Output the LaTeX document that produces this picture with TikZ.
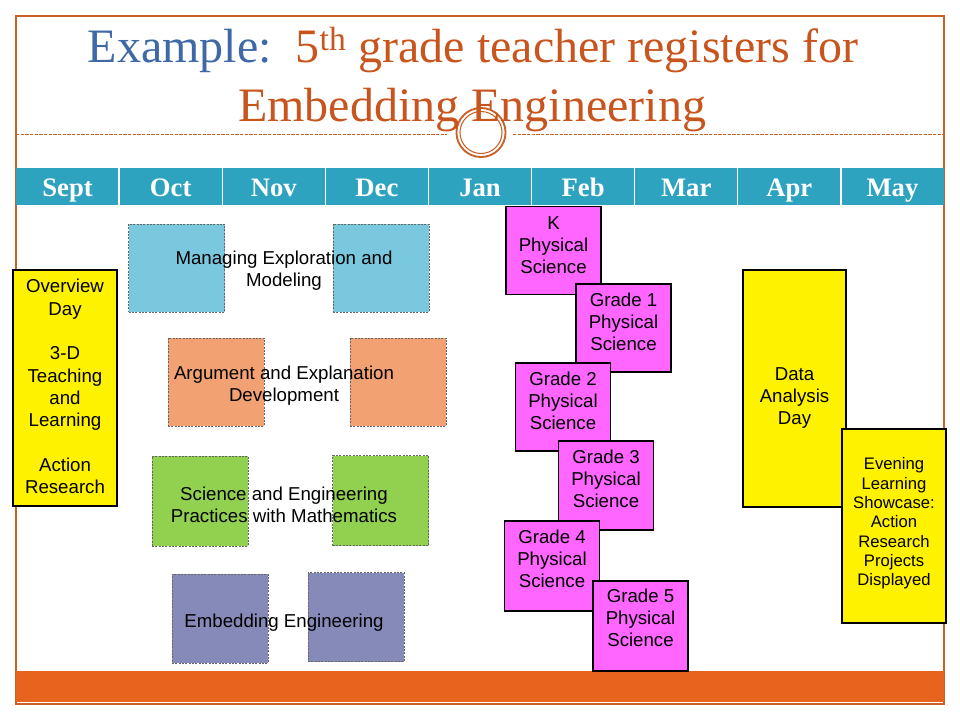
\documentclass[tikz,border=0pt]{standalone}
\usepackage{fontspec}
\setmainfont{Liberation Sans}
\newfontfamily\titlefont{Liberation Serif}
\usepackage{tikz}
\usetikzlibrary{calc}

\definecolor{frameorange}{RGB}{200,98,40}
\definecolor{titleblue}{RGB}{62,104,166}
\definecolor{titleorange}{RGB}{200,85,30}
\definecolor{barteal}{RGB}{46,163,192}
\definecolor{barorange}{RGB}{232,100,30}
\definecolor{mgblue}{RGB}{122,200,222}
\definecolor{argorange}{RGB}{242,162,114}
\definecolor{scigreen}{RGB}{146,208,80}
\definecolor{embpurple}{RGB}{134,138,184}
\definecolor{grademagenta}{RGB}{255,102,255}

\begin{document}
\begin{tikzpicture}[x=0.75pt,y=-0.75pt,
  month/.style={anchor=base,text=white,font=\titlefont\bfseries\fontsize{20}{24}\selectfont},
  topic/.style={draw=black!60,line width=0.5pt,dash pattern=on 1.5pt off 1pt,minimum width=72pt,minimum height=66pt,inner sep=0pt},
  grade/.style={draw=black,line width=0.8pt,fill=grademagenta,minimum width=71.25pt,minimum height=66pt,inner sep=0pt},
  daybox/.style={draw=black,line width=0.8pt,fill=yellow,minimum width=78pt,inner sep=0pt},
  lbl/.style={align=center,inner sep=0pt,font=\fontsize{14}{16.7}\selectfont}]
\useasboundingbox (0,0) rectangle (960,720);
% the slide frame
\draw[frameorange,line width=0.8pt] (16,16) rectangle (944,704);
\fill[barorange] (16,671) rectangle (944,702);
% the title
\draw[frameorange,line width=0.6pt,dash pattern=on 2.5pt off 1pt] (16,134) -- (447,134) (513,134) -- (944,134);
\node[circle,draw=frameorange,fill=white,line width=1.4pt,minimum size=36.8pt,inner sep=0pt] (ring) at (481,132.5) {};
\node[circle,draw=frameorange,line width=0.8pt,minimum size=31.5pt,inner sep=0pt] (ringin) at (481,132.5) {};
\node[anchor=base,font=\titlefont\fontsize{36}{44}\selectfont] (title1) at (473,63)
  {\textcolor{titleblue}{Example:}\ \ \textcolor{titleorange}{5\textsuperscript{th} grade teacher registers for}};
\node[anchor=base,text=titleorange,font=\titlefont\fontsize{36}{44}\selectfont] (title2) at (472,122) {Embedding Engineering};
% the months
\fill[barteal] (16,168) rectangle (944,205);
\foreach \i in {1,...,8}
  \draw[white,line width=1pt] ({16+103.11*\i},168) -- ++(0,37);
\foreach \m [count=\i] in {Sept,Oct,Nov,Dec,Jan,Feb,Mar,Apr,May}
  \node[month] (m\i) at ({16+103.11*(\i-0.5)},197) {\m};
% overview day
\node[daybox,minimum height=177pt] (ov) at (65,388) {};
\node[lbl] (ovt) at (65,386.5) {Overview\\Day\\[16.7pt]3-D\\Teaching\\and\\Learning\\[16.7pt]Action\\Research};
% the four strands
\node[topic,fill=mgblue] (mg1) at (176.5,268) {};
\node[topic,fill=mgblue] (mg2) at (381,268) {};
\node[lbl] (mgt) at (284,270.5) {Managing Exploration and\\Modeling};
\node[topic,fill=argorange] (ar1) at (216,382) {};
\node[topic,fill=argorange] (ar2) at (398,382) {};
\node[lbl] (art) at (284,385.5) {Argument and Explanation\\Development};
\node[topic,fill=scigreen,minimum height=67.5pt] (sc1) at (200,501) {};
\node[topic,fill=scigreen,minimum height=67.5pt] (sc2) at (380.5,500.5) {};
\node[lbl] (sct) at (284,505) {Science and Engineering\\Practices with Mathematics};
\node[topic,fill=embpurple,minimum height=66.75pt] (em1) at (220,618.5) {};
\node[topic,fill=embpurple,minimum height=66.75pt] (em2) at (356,617) {};
\node[lbl] (emt) at (284,623) {Embedding Engineering};
% the grade sessions
\node[grade] (gk) at (553.5,250.5) {};
\node[lbl] (gkt) at (553.5,245) {K\\Physical\\Science};
\node[grade] (g1) at (623.5,328) {};
\node[lbl] (g1t) at (623.5,322) {Grade 1\\Physical\\Science};
\node[grade] (g2) at (563,407) {};
\node[lbl] (g2t) at (563,401) {Grade 2\\Physical\\Science};
\node[grade,minimum height=66.75pt] (g3) at (606,485.5) {};
\node[lbl] (g3t) at (606,479) {Grade 3\\Physical\\Science};
\node[grade,minimum height=67.5pt] (g4) at (552,566) {};
\node[lbl] (g4t) at (552,559) {Grade 4\\Physical\\Science};
\node[grade,minimum height=67.5pt] (g5) at (640.5,626) {};
\node[lbl] (g5t) at (640.5,618) {Grade 5\\Physical\\Science};
% data analysis and showcase
\node[daybox,minimum width=77.25pt,minimum height=177.75pt] (da) at (794.5,388.5) {};
\node[lbl] (dat) at (794.5,398) {Data\\Analysis\\Day};
\node[daybox,minimum height=145.5pt] (ev) at (894,526) {};
\node[lbl,font=\fontsize{12.5}{14.5}\selectfont] (evt) at (894,523.5) {Evening\\Learning\\Showcase:\\Action\\Research\\Projects\\Displayed};
\end{tikzpicture}
\end{document}
